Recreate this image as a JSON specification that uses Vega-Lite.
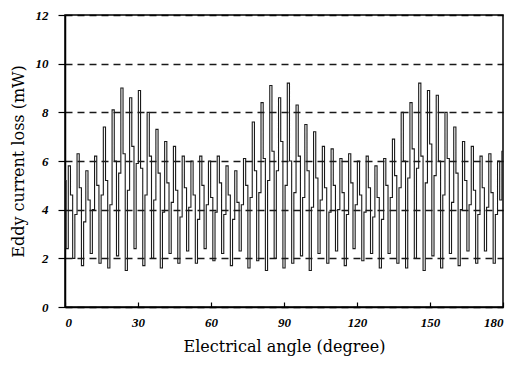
{
"$schema": "https://vega.github.io/schema/vega-lite/v6.json",
"autosize": "none",
"width": 438,
"height": 292,
"padding": {"left": 65, "top": 15, "right": 21, "bottom": 60},
"background": "white",
"config": {"view": {"stroke": "black", "strokeWidth": 1.5}, "font": "Liberation Serif"},
"data": {"values": [
{"x":0,"y":5.2},{"x":0.9,"y":2.4},{"x":1.8,"y":5.8},{"x":2.7,"y":4.6},
{"x":3.6,"y":2.0},{"x":4.5,"y":3.8},{"x":5.4,"y":6.3},{"x":6.3,"y":4.9},
{"x":7.2,"y":1.7},{"x":8.1,"y":3.5},{"x":9.0,"y":5.6},{"x":9.9,"y":4.4},
{"x":10.8,"y":2.2},{"x":11.7,"y":4.0},{"x":12.6,"y":6.2},{"x":13.5,"y":5.0},
{"x":14.4,"y":1.8},{"x":15.3,"y":4.6},{"x":16.2,"y":7.4},{"x":17.1,"y":5.2},
{"x":18.0,"y":1.6},{"x":18.9,"y":4.2},{"x":19.8,"y":8.1},{"x":20.7,"y":6.0},
{"x":21.6,"y":2.1},{"x":22.5,"y":5.5},{"x":23.4,"y":9.0},{"x":24.3,"y":6.3},
{"x":25.2,"y":1.5},{"x":26.1,"y":4.8},{"x":27.0,"y":8.6},{"x":27.9,"y":6.6},
{"x":28.8,"y":2.4},{"x":29.7,"y":5.9},{"x":30.6,"y":8.9},{"x":31.5,"y":5.7},
{"x":32.4,"y":1.7},{"x":33.3,"y":4.6},{"x":34.2,"y":8.0},{"x":35.1,"y":6.2},
{"x":36.0,"y":2.0},{"x":36.9,"y":4.4},{"x":37.8,"y":7.3},{"x":38.7,"y":5.5},
{"x":39.6,"y":1.6},{"x":40.5,"y":3.9},{"x":41.4,"y":6.8},{"x":42.3,"y":5.1},
{"x":43.2,"y":2.2},{"x":44.1,"y":4.3},{"x":45.0,"y":6.6},{"x":45.9,"y":4.8},
{"x":46.8,"y":1.8},{"x":47.7,"y":3.7},{"x":48.6,"y":6.2},{"x":49.5,"y":4.9},
{"x":50.4,"y":2.3},{"x":51.3,"y":4.1},{"x":52.2,"y":6.0},{"x":53.1,"y":4.6},
{"x":54.0,"y":1.8},{"x":54.9,"y":3.6},{"x":55.8,"y":6.2},{"x":56.7,"y":5.0},
{"x":57.6,"y":2.4},{"x":58.5,"y":4.2},{"x":59.4,"y":6.0},{"x":60.3,"y":4.5},
{"x":61.2,"y":1.9},{"x":62.1,"y":3.9},{"x":63.0,"y":6.2},{"x":63.9,"y":5.1},
{"x":64.8,"y":2.2},{"x":65.7,"y":3.8},{"x":66.6,"y":5.8},{"x":67.5,"y":4.6},
{"x":68.4,"y":1.7},{"x":69.3,"y":3.6},{"x":70.2,"y":5.6},{"x":71.1,"y":4.3},
{"x":72.0,"y":2.3},{"x":72.9,"y":4.2},{"x":73.8,"y":6.1},{"x":74.7,"y":5.0},
{"x":75.6,"y":1.6},{"x":76.5,"y":4.5},{"x":77.4,"y":7.6},{"x":78.3,"y":5.6},
{"x":79.2,"y":1.9},{"x":80.1,"y":4.7},{"x":81.0,"y":8.4},{"x":81.9,"y":6.1},
{"x":82.8,"y":1.5},{"x":83.7,"y":5.2},{"x":84.6,"y":9.1},{"x":85.5,"y":6.4},
{"x":86.4,"y":2.0},{"x":87.3,"y":5.6},{"x":88.2,"y":8.6},{"x":89.1,"y":6.8},
{"x":90.0,"y":1.6},{"x":90.9,"y":5.0},{"x":91.8,"y":9.2},{"x":92.7,"y":6.0},
{"x":93.6,"y":1.8},{"x":94.5,"y":4.7},{"x":95.4,"y":8.3},{"x":96.3,"y":6.2},
{"x":97.2,"y":2.1},{"x":98.1,"y":4.5},{"x":99.0,"y":7.5},{"x":99.9,"y":5.6},
{"x":100.8,"y":1.5},{"x":101.7,"y":4.1},{"x":102.6,"y":7.2},{"x":103.5,"y":5.3},
{"x":104.4,"y":2.2},{"x":105.3,"y":4.4},{"x":106.2,"y":6.6},{"x":107.1,"y":4.9},
{"x":108.0,"y":1.8},{"x":108.9,"y":3.9},{"x":109.8,"y":6.5},{"x":110.7,"y":5.0},
{"x":111.6,"y":2.3},{"x":112.5,"y":4.0},{"x":113.4,"y":6.1},{"x":114.3,"y":4.7},
{"x":115.2,"y":1.7},{"x":116.1,"y":3.8},{"x":117.0,"y":6.3},{"x":117.9,"y":5.1},
{"x":118.8,"y":2.4},{"x":119.7,"y":4.2},{"x":120.6,"y":6.0},{"x":121.5,"y":4.6},
{"x":122.4,"y":1.9},{"x":123.3,"y":3.9},{"x":124.2,"y":6.2},{"x":125.1,"y":4.9},
{"x":126.0,"y":2.2},{"x":126.9,"y":3.7},{"x":127.8,"y":5.8},{"x":128.7,"y":4.5},
{"x":129.6,"y":1.6},{"x":130.5,"y":3.6},{"x":131.4,"y":6.1},{"x":132.3,"y":5.0},
{"x":133.2,"y":2.2},{"x":134.1,"y":4.5},{"x":135.0,"y":6.9},{"x":135.9,"y":5.4},
{"x":136.8,"y":1.8},{"x":137.7,"y":4.9},{"x":138.6,"y":8.0},{"x":139.5,"y":6.0},
{"x":140.4,"y":1.6},{"x":141.3,"y":5.3},{"x":142.2,"y":8.4},{"x":143.1,"y":6.5},
{"x":144.0,"y":2.0},{"x":144.9,"y":5.7},{"x":145.8,"y":9.2},{"x":146.7,"y":6.2},
{"x":147.6,"y":1.5},{"x":148.5,"y":5.1},{"x":149.4,"y":8.9},{"x":150.3,"y":6.7},
{"x":151.2,"y":2.1},{"x":152.1,"y":5.4},{"x":153.0,"y":8.7},{"x":153.9,"y":6.0},
{"x":154.8,"y":1.6},{"x":155.7,"y":4.6},{"x":156.6,"y":8.0},{"x":157.5,"y":6.1},
{"x":158.4,"y":2.2},{"x":159.3,"y":4.3},{"x":160.2,"y":7.4},{"x":161.1,"y":5.5},
{"x":162.0,"y":1.7},{"x":162.9,"y":4.0},{"x":163.8,"y":6.8},{"x":164.7,"y":5.2},
{"x":165.6,"y":2.3},{"x":166.5,"y":4.2},{"x":167.4,"y":6.6},{"x":168.3,"y":4.8},
{"x":169.2,"y":1.8},{"x":170.1,"y":3.8},{"x":171.0,"y":6.2},{"x":171.9,"y":4.9},
{"x":172.8,"y":2.3},{"x":173.7,"y":4.1},{"x":174.6,"y":6.3},{"x":175.5,"y":4.7},
{"x":176.4,"y":1.8},{"x":177.3,"y":3.8},{"x":178.2,"y":6.0},{"x":179.1,"y":4.4},
{"x":180.0,"y":6.4}
]},
"mark": {"type": "line", "color": "#1a1a1a", "strokeWidth": 1.1, "clip": true, "interpolate": "step"},
"encoding": {
"x": {"field": "x", "type": "quantitative",
 "scale": {"domain": [0, 180], "nice": false, "zero": false},
 "axis": {"values": [0, 30, 60, 90, 120, 150, 180], "title": "Electrical angle (degree)",
  "grid": false, "domainColor": "black", "domainWidth": 1.5, "tickColor": "black", "tickSize": -5, "tickWidth": 1.2,
  "labelFont": "Liberation Serif", "labelFontStyle": "italic", "labelFontWeight": "bold", "labelFontSize": 13, "labelColor": "black", "labelPadding": 14,
  "titleFont": "DejaVu Serif", "titleFontSize": 16, "titleFontWeight": "normal", "titleColor": "black", "titlePadding": 9}},
"y": {"field": "y", "type": "quantitative",
 "scale": {"domain": [0, 12], "nice": false},
 "axis": {"values": [0, 2, 4, 6, 8, 10, 12], "title": "Eddy current loss (mW)",
  "grid": true, "gridColor": "black", "gridDash": [7, 5], "gridWidth": 1.3, "gridOpacity": 0.9,
  "domainColor": "black", "domainWidth": 1.5, "tickColor": "black", "tickSize": 7, "tickWidth": 1.2,
  "labelFont": "Liberation Serif", "labelFontStyle": "italic", "labelFontWeight": "bold", "labelFontSize": 13, "labelColor": "black", "labelPadding": 10,
  "titleFont": "DejaVu Serif", "titleFontSize": 16, "titleFontWeight": "normal", "titleColor": "black", "titlePadding": 9}}
}
}
